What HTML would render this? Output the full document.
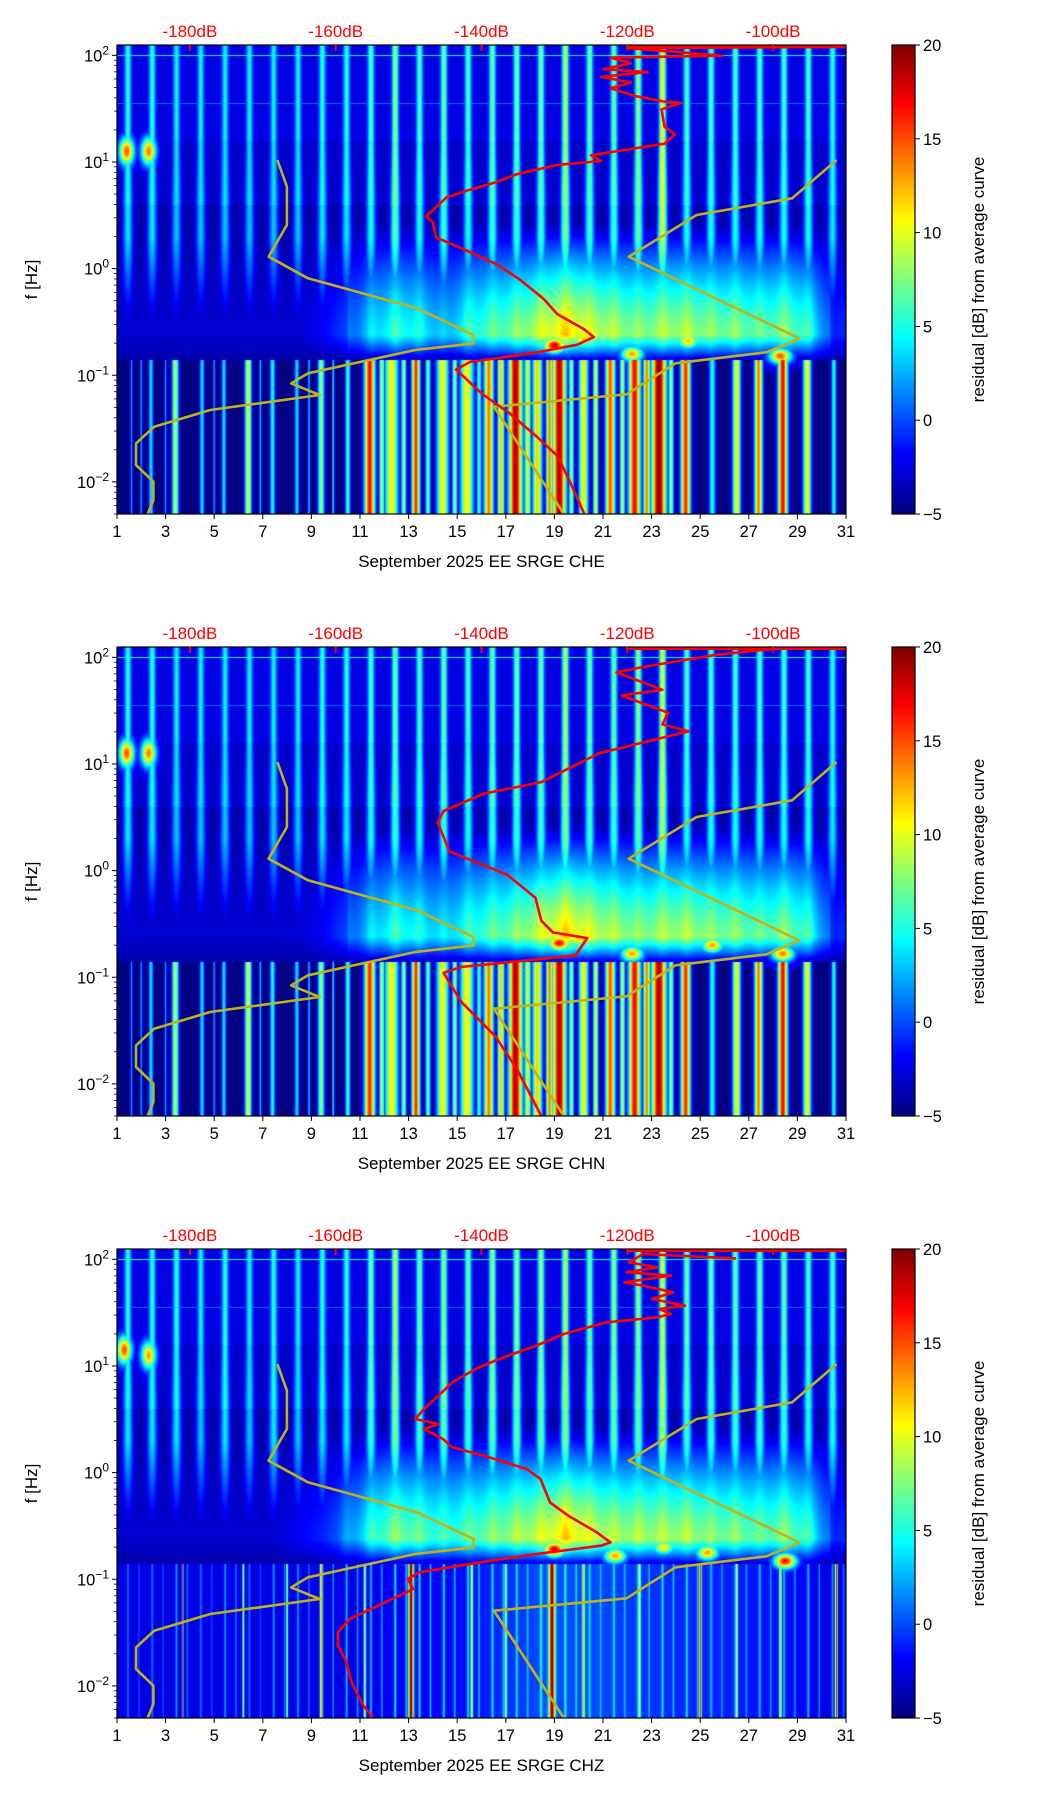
<!DOCTYPE html>
<html><head><meta charset="utf-8">
<style>
html,body{margin:0;padding:0;background:#fff;}
body{width:1052px;height:1806px;position:relative;overflow:hidden;font-family:"Liberation Sans","DejaVu Sans",sans-serif;}
canvas{position:absolute;}
svg{position:absolute;left:0;top:0;}
</style></head>
<body>
<script>
// ---------- shared model curves (dB vs log10 f) ----------
const nlnmLogF=[1.018,0.768,0.409,0.112,-0.091,-0.373,-0.622,-0.701,-0.763,-0.982,-1.076,-1.185,-1.326,-1.482,-1.639,-1.842,-1.998,-2.170,-2.311];
const nlnmDb=[-168.0,-166.7,-166.7,-169.2,-163.8,-148.8,-141.1,-141.1,-149.1,-163.8,-166.1,-162.2,-177.2,-184.9,-187.4,-187.4,-185.0,-185.0,-185.8];
const nhnmLogF=[1.018,0.659,0.503,0.112,-0.654,-0.785,-0.888,-1.179,-1.295,-2.311];
const nhnmDb=[-91.3,-97.4,-110.5,-119.8,-96.4,-100.9,-113.4,-120.1,-138.3,-128.7];
// ---------- red average curves ----------
const red1LogF=[2.079,2.068,1.997,1.979,1.925,1.871,1.842,1.799,1.745,1.691,1.620,1.566,1.555,1.494,1.332,1.260,1.171,1.063,1.009,0.973,0.884,0.812,0.740,0.668,0.578,0.489,0.435,0.291,0.183,0.040,-0.104,-0.283,-0.427,-0.570,-0.642,-0.714,-0.786,-0.876,-0.947,-1.181,-1.360,-1.576,-1.755,-2.007,-2.301];
const red1Db=[-90.0,-120.0,-107.0,-122.3,-119.5,-123.2,-117.2,-123.6,-119.5,-122.3,-119.0,-114.9,-112.6,-115.3,-114.9,-113.5,-114.9,-125.0,-123.6,-129.6,-135.2,-137.9,-141.6,-144.8,-146.2,-147.6,-146.7,-146.2,-142.5,-137.9,-134.7,-131.5,-129.6,-125.9,-124.6,-126.9,-132.4,-141.6,-143.5,-139.8,-136.1,-132.4,-129.6,-127.8,-125.9];
const red2LogF=[2.079,2.021,1.913,1.859,1.696,1.642,1.480,1.371,1.306,1.100,0.830,0.721,0.559,0.450,0.180,-0.037,-0.254,-0.470,-0.579,-0.633,-0.795,-0.904,-0.958,-1.229,-1.554,-1.879,-2.301];
const red2Db=[-100.0,-108.1,-117.6,-121.5,-115.2,-120.8,-114.4,-115.2,-111.6,-123.9,-131.8,-139.7,-145.2,-146.0,-144.4,-136.5,-132.6,-131.8,-130.2,-125.5,-127.1,-142.8,-145.2,-142.8,-138.1,-135.0,-131.8];
const red3LogF=[2.009,2.050,1.972,1.925,1.878,1.847,1.784,1.753,1.691,1.628,1.566,1.534,1.487,1.456,1.409,1.300,1.190,1.065,0.972,0.847,0.722,0.596,0.503,0.456,0.409,0.315,0.237,0.143,0.034,-0.060,-0.279,-0.404,-0.560,-0.654,-0.685,-0.763,-0.841,-0.935,-0.998,-1.092,-1.248,-1.373,-1.498,-1.623,-1.748,-1.967,-2.186,-2.295];
const red3Db=[-105.1,-117.8,-119.8,-115.9,-120.1,-114.0,-120.4,-117.8,-113.7,-116.6,-112.1,-115.6,-114.0,-115.9,-122.9,-128.7,-132.5,-137.6,-140.8,-144.0,-145.9,-147.9,-149.1,-145.9,-147.9,-145.3,-144.0,-138.9,-133.8,-131.9,-130.6,-128.1,-124.2,-122.3,-123.6,-132.5,-140.2,-148.5,-150.1,-149.4,-154.2,-158.1,-159.7,-159.7,-158.7,-157.8,-156.2,-154.9];
// ---------- spectrogram residual data (per day) ----------
const hiStreak1=[4,4,3,3,3,3,3,3,4,4,5,7,5,6,5,6,6,6,8,6,6,7,10,5,5,5,5,5,5,4];
const midVal1=[-3,-3,-3,-3,-3,-3,-3,-3,-2,0,3,5,4,2,5,6,7,9,11,9,8,7,8,8,7,7,6,7,5,-1];
const lowBase1=[-5,-5,-5,-5,-5,-5,-5,-5,-5,-5,-5,-5,-5,-5,-5,-5,-5,-5,-5,-5,-5,-5,-5,-5,-5,-5,-5,-5,-5,-5];
const lowStreak1=[-5,-5,-5,-5,-5,-5,-5,-5,-5,-5,-5,-5,-5,-5,-5,-5,-5,-5,-5,-5,-5,-5,-5,-5,-5,-5,-5,-5,-5,-5];
const stripeDay1=[2.4,3.4,4.5,5.4,6.4,7.4,8.4,9.4,10.5,11.4,12.3,13.3,14.4,15.4,16.3,17.4,18.3,19.2,20.2,21.3,22.3,23.3,24.4,25.5,26.5,27.4,28.4,29.4,30.5,11.9,12.8,13.8,14.9,15.9,16.8,17.9,18.8,19.7,20.7,21.8,22.8,23.8,1.6,2.0,3.0,5.0,6.9,8.9,9.9];
const stripeVal1=[4,9,4,4,10,5,4,8,6,17,11,16,11,11,14,19,12,19,11,15,17,20,16,5,11,14,17,11,5,9,8,7,8,6,12,10,14,8,10,9,14,8,2,2,2,2,3,3,4];
const stripeWid1=[0.1,0.14,0.1,0.1,0.14,0.11,0.1,0.14,0.11,0.22,0.28,0.17,0.25,0.28,0.2,0.28,0.2,0.28,0.2,0.2,0.25,0.3,0.2,0.14,0.17,0.17,0.2,0.17,0.11,0.11,0.11,0.11,0.11,0.11,0.14,0.14,0.14,0.11,0.11,0.11,0.14,0.11,0.05,0.05,0.05,0.05,0.05,0.05,0.05];
const spotDay1=[1.4,2.3,19,28.3,22.2,20.2,24.5];
const spotLf1=[1.1,1.1,-0.72,-0.82,-0.8,-0.66,-0.68];
const spotVal1=[15,14,18,15,13,12,12];
const hiStreak2=[4,4,3,3,3,3,3,3,4,4,5,6,5,6,5,6,6,6,8,6,6,7,9,5,5,5,5,5,5,4];
const midVal2=[-3,-3,-3,-3,-3,-3,-3,-3,-2,0,3,5,4,3,5,6,7,9,11,9,8,7,8,8,7,7,6,7,5,-1];
const lowBase2=lowBase1.slice();
const lowStreak2=lowStreak1.slice();
const stripeDay2=stripeDay1.slice();
const stripeVal2=[4,9,4,4,10,5,4,8,6,16,11,16,11,11,14,19,12,19,11,15,17,19,16,5,11,14,17,11,5,9,8,7,8,6,12,10,14,8,10,9,14,8,2,2,2,2,3,3,4];
const stripeWid2=stripeWid1.slice();
const spotDay2=[1.4,2.3,19.2,28.4,22.2,25.5,20.0];
const spotLf2=[1.1,1.1,-0.68,-0.78,-0.78,-0.7,-0.64];
const spotVal2=[15,14,17,14,13,13,12];
const hiStreak3=[4,4,4,3,4,3,4,3,4,4,6,8,6,7,6,7,7,7,8,6,7,7,9,6,6,6,6,6,5,5];
const midVal3=[-3,-3,-3,-3,-3,-3,-3,-2,-1,1,5,7,6,5,6,7,8,9,11,9,8,8,8,8,7,7,6,7,5,-1];
const lowBase3=[-2.5,-2.5,-2.5,-2.5,-2.5,-2.5,-2.5,-2.5,-2.5,-2.5,-2.2,-2,-2,-1.8,-1.5,-1,-0.5,0,0,0,-0.3,-0.5,-0.8,-1,-1,-1.2,-1.5,-1.5,-2,-2.5];
const lowStreak3=[1,1,2,1,2,1,2,2,3,3,3,4,4,4,4,4,4,5,5,4,4,4,4,4,3,3,3,3,3,2];
const stripeDay3=[3.7,6.2,8.0,9.4,11.2,13.1,15.6,17.0,18.9,20.2,22.5,25.0,26.5,28.3,30.6];
const stripeVal3=[16,9,9,14,9,20,10,9,20,12,10,17,10,12,17];
const stripeWid3=[0.03,0.04,0.04,0.05,0.05,0.1,0.05,0.05,0.12,0.05,0.05,0.05,0.05,0.05,0.05];
const spotDay3=[1.3,2.3,19,28.5,21.5,25.3,23.5];
const spotLf3=[1.15,1.1,-0.72,-0.83,-0.78,-0.75,-0.7];
const spotVal3=[15,13,18,17,13,13,11];
const hLineLf=[2.0,1.55];
const hLineVal=[5,1];
const dayTicks=[1,3,5,7,9,11,13,15,17,19,21,23,25,27,29,31];
const dbTicks=[-180,-160,-140,-120,-100];
const cbTicks=[20,15,10,5,0,-5];
const decades=[2,1,0,-1,-2];
const channels=["CHE","CHN","CHZ"];

const panels=[
 {top:45,hi:hiStreak1,mid:midVal1,low:lowBase1,ls:lowStreak1,sd:stripeDay1,sv:stripeVal1,sw:stripeWid1,pd:spotDay1,pl:spotLf1,pv:spotVal1,rf:red1LogF,rd:red1Db},
 {top:647,hi:hiStreak2,mid:midVal2,low:lowBase2,ls:lowStreak2,sd:stripeDay2,sv:stripeVal2,sw:stripeWid2,pd:spotDay2,pl:spotLf2,pv:spotVal2,rf:red2LogF,rd:red2Db},
 {top:1249,hi:hiStreak3,mid:midVal3,low:lowBase3,ls:lowStreak3,sd:stripeDay3,sv:stripeVal3,sw:stripeWid3,pd:spotDay3,pl:spotLf3,pv:spotVal3,rf:red3LogF,rd:red3Db}
];
const L=117,W=729,H=469,LFMAX=2.0969,LFR=4.398,VMIN=-5,VMAX=20;
function xDay(d){return L+(d-1)/30*W;}
function xDb(db){return L+(db+190)/100*W;}
function yLf(top,lf){return top+(LFMAX-lf)/LFR*H;}
function cl(v){return v<0?0:v>1?1:v;}
function jet(t){return [cl(1.5-Math.abs(4*t-3)),cl(1.5-Math.abs(4*t-2)),cl(1.5-Math.abs(4*t-1))];}
function interp(arr,d){let p=d-1.5;let i=Math.floor(p);let f=p-i;let a=arr[Math.max(0,Math.min(29,i))],b=arr[Math.max(0,Math.min(29,i+1))];return a+(b-a)*f;}
function value(P,d,lf){
  let v;
  if(lf>-0.86){
    let base=lf>1.2?-2.6:(lf>0.6?-3.2:-4);
    let i=Math.round(d-1.45);let ii=Math.max(0,Math.min(29,i));
    let dx=d-(ii+1.45);
    let sg=0.13+0.09*cl((1.3-lf)/1.3);
    let g=Math.exp(-(dx/sg)*(dx/sg));
    let fade=cl((lf+0.6)/0.9);
    v=base+(P.hi[ii]+4)*g*fade;
    for(let k=0;k<hLineLf.length;k++){if(Math.abs(lf-hLineLf[k])<0.006)v=Math.max(v,hLineVal[k]);}
    let h=0;
    if(lf>-0.62)h=cl(1-Math.pow((lf+0.62)/1.05,1.3));else h=cl(1-(-0.62-lf)/0.26);
    let m=interp(P.mid,d);
    let vm=-4+(m+4)*h+1.5*g*h*(m>0?1:0);
    if(vm>v)v=vm;
  } else {
    let b=interp(P.low,d);
    v=b;
    let i=Math.round(d-1.45);let ii=Math.max(0,Math.min(29,i));
    let dx0=(d-(ii+1.45))/0.05;
    let s0=b+(P.ls[ii]-b)*Math.exp(-dx0*dx0);if(s0>v)v=s0;
    let dx1=(d-(ii+1.9))/0.04;
    let s1=b+(P.ls[ii]-1-b)*Math.exp(-dx1*dx1);if(s1>v)v=s1;
    for(let k=0;k<P.sd.length;k++){
      let dx=(d-P.sd[k])/P.sw[k];
      if(dx>-3&&dx<3){let s=b+(P.sv[k]-b)*Math.exp(-dx*dx);if(s>v)v=s;}
    }
  }
  for(let k=0;k<P.pd.length;k++){
    let hiF=P.pl[k]>0;
    let dx=(d-P.pd[k])/(hiF?0.3:0.45),dl=(lf-P.pl[k])/(hiF?0.13:0.07);
    let e=dx*dx+dl*dl; if(e<6){let s=-3+(P.pv[k]+3)*Math.exp(-e);if(s>v)v=s;}
  }
  return v;
}
const NS="http://www.w3.org/2000/svg";
function el(tag,attrs,parent){const e=document.createElementNS(NS,tag);for(const k in attrs)e.setAttribute(k,attrs[k]);parent.appendChild(e);return e;}

panels.forEach((P,pi)=>{
  const cv=document.createElement('canvas');
  cv.width=W;cv.height=H;cv.style.left=L+'px';cv.style.top=P.top+'px';
  
  
  document.body.appendChild(cv);
  const ctx=cv.getContext('2d');const img=ctx.createImageData(W,H);
  for(let py=0;py<H;py++){
    const lf=LFMAX-(py+0.5)/H*LFR;
    for(let px=0;px<W;px++){
      const d=1+(px+0.5)/W*30;
      const v=value(P,d,lf);
      const c=jet(cl((v-VMIN)/(VMAX-VMIN)));
      const o=(py*W+px)*4;
      img.data[o]=c[0]*255;img.data[o+1]=c[1]*255;img.data[o+2]=c[2]*255;img.data[o+3]=255;
    }
  }
  ctx.putImageData(img,0,0);
  const cb=document.createElement('canvas');cb.width=23;cb.height=H;cb.style.left='892px';cb.style.top=P.top+'px';
  
  
  document.body.appendChild(cb);
  const c2=cb.getContext('2d');
  for(let py=0;py<H;py++){const c=jet(1-py/(H-1));c2.fillStyle=`rgb(${c[0]*255|0},${c[1]*255|0},${c[2]*255|0})`;c2.fillRect(0,py,23,1);}
});

const svg=el('svg',{width:1052,height:1806,viewBox:'0 0 1052 1806'},document.body);


function polyline(lfs,dbs,top,color,name){
  const pts=lfs.map((lf,i)=>{const y=Math.max(top,Math.min(top+H,yLf(top,lf)));return xDb(dbs[i]).toFixed(1)+','+y.toFixed(1);}).join(' ');
  const p=el('polyline',{points:pts,fill:'none',stroke:color,'stroke-width':2.6,'stroke-linejoin':'round'},svg);
  
  
}
panels.forEach((P,pi)=>{
  const top=P.top;
  polyline(nlnmLogF,nlnmDb,top,'#c2b21a','nlnm-curve-'+pi);
  polyline(nhnmLogF,nhnmDb,top,'#c2b21a','nhnm-curve-'+pi);
  polyline(P.rf,P.rd,top,'#ff0000','average-curve-'+pi);
  const tl=el('line',{x1:xDb(-120),y1:top+1.5,x2:L+W,y2:top+1.5,stroke:'#ff0000','stroke-width':3},svg);
  
  
  const fr=el('rect',{x:L,y:top,width:W,height:H,fill:'none',stroke:'#000','stroke-width':1.2},svg);
  
  
  dayTicks.forEach(d=>{
    const x=xDay(d);
    el('line',{x1:x,y1:top+H,x2:x,y2:top+H+5,stroke:'#000','stroke-width':1},svg);
    const t=el('text',{x:x,y:top+H+23,'font-size':16.5,'text-anchor':'middle',fill:'#000'},svg);t.textContent=d;
    
    
  });
  const xl=el('text',{x:L+W/2,y:top+H+53,'font-size':17,'text-anchor':'middle',fill:'#000'},svg);
  xl.textContent='September 2025 EE SRGE  '+channels[pi];
  
  
  dbTicks.forEach(db=>{
    const x=xDb(db);
    el('line',{x1:x,y1:top,x2:x,y2:top+6,stroke:'#ff0000','stroke-width':2},svg);
    const t=el('text',{x:x,y:top-8,'font-size':17,'text-anchor':'middle',fill:'#ff0000'},svg);t.textContent=db+'dB';
    
    
  });
  decades.forEach(dec=>{
    const y=yLf(top,dec);
    el('line',{x1:L-5,y1:y,x2:L,y2:y,stroke:'#000','stroke-width':1},svg);
    const t=el('text',{x:L-8,y:y+6,'font-size':16.5,'text-anchor':'end',fill:'#000'},svg);
    
    
    const a=el('tspan',{},t);a.textContent='10';
    const b=el('tspan',{dy:-7,'font-size':12},t);b.textContent=(dec<0?'\u2212':'')+Math.abs(dec);
  });
  for(let dec=-3;dec<=2;dec++){for(let m=2;m<=9;m++){const lf=dec+Math.log10(m);if(lf<LFMAX-LFR||lf>LFMAX)continue;const y=yLf(top,lf);el('line',{x1:L-3,y1:y,x2:L,y2:y,stroke:'#000','stroke-width':0.8},svg);}}
  const yl=el('text',{x:0,y:0,'font-size':17,'text-anchor':'middle',fill:'#000',transform:`translate(37,${top+H/2}) rotate(-90)`},svg);
  yl.textContent='f [Hz]';
  
  
  const cf=el('rect',{x:892,y:top,width:23,height:H,fill:'none',stroke:'#000','stroke-width':1.2},svg);
  
  
  cbTicks.forEach(v=>{
    const y=top+(VMAX-v)/(VMAX-VMIN)*H;
    el('line',{x1:915,y1:y,x2:920,y2:y,stroke:'#000','stroke-width':1},svg);
    const t=el('text',{x:923,y:y+6,'font-size':16.5,fill:'#000'},svg);t.textContent=v<0?'\u2212'+Math.abs(v):v;
    
    
  });
  const cl2=el('text',{x:0,y:0,'font-size':17,'text-anchor':'middle',fill:'#000',transform:`translate(984,${top+H/2}) rotate(-90)`},svg);
  cl2.textContent='residual [dB] from average curve';
  
  
});
</script>
</body></html>
